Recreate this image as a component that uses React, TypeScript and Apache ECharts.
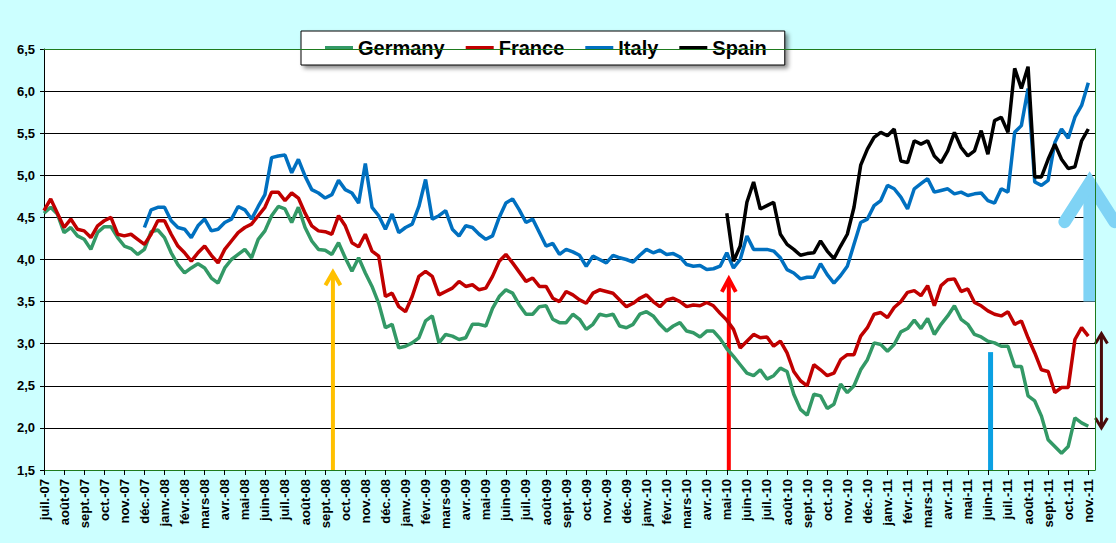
import * as echarts from 'echarts';
import { useEffect, useRef } from 'react';

// month labels on the x axis, three readings per month
const months = [
  'juil.-07', 'août-07', 'sept.-07', 'oct.-07', 'nov.-07', 'déc.-07',
  'janv.-08', 'févr.-08', 'mars-08', 'avr.-08', 'mai-08', 'juin-08',
  'juil.-08', 'août-08', 'sept.-08', 'oct.-08', 'nov.-08', 'déc.-08',
  'janv.-09', 'févr.-09', 'mars-09', 'avr.-09', 'mai-09', 'juin-09',
  'juil.-09', 'août-09', 'sept.-09', 'oct.-09', 'nov.-09', 'déc.-09',
  'janv.-10', 'févr.-10', 'mars-10', 'avr.-10', 'mai-10', 'juin-10',
  'juil.-10', 'août-10', 'sept.-10', 'oct.-10', 'nov.-10', 'déc.-10',
  'janv.-11', 'févr.-11', 'mars-11', 'avr.-11', 'mai-11', 'juin-11',
  'juil.-11', 'août-11', 'sept.-11', 'oct.-11', 'nov.-11',
];

const germany = [
  4.55, 4.62, 4.54, 4.32, 4.38, 4.28, 4.24, 4.12, 4.32, 4.39, 4.39, 4.26,
  4.16, 4.13, 4.06, 4.12, 4.33, 4.35, 4.26, 4.08, 3.94, 3.84, 3.90, 3.95,
  3.90, 3.78, 3.72, 3.90, 4.00, 4.06, 4.12, 4.02, 4.24, 4.34, 4.52, 4.63,
  4.60, 4.44, 4.62, 4.38, 4.22, 4.12, 4.11, 4.06, 4.20, 4.02, 3.86, 4.02,
  3.84, 3.68, 3.48, 3.19, 3.23, 2.95, 2.97, 3.01, 3.07, 3.27, 3.33, 3.01,
  3.11, 3.09, 3.05, 3.07, 3.23, 3.23, 3.21, 3.42, 3.56, 3.64, 3.60, 3.46,
  3.35, 3.35, 3.44, 3.45, 3.29, 3.25, 3.25, 3.35, 3.29, 3.17, 3.23, 3.35,
  3.33, 3.35, 3.21, 3.19, 3.23, 3.35, 3.38, 3.33, 3.23, 3.15, 3.21, 3.25,
  3.15, 3.13, 3.08, 3.15, 3.15, 3.06, 2.94, 2.85, 2.75, 2.65, 2.62, 2.69,
  2.58, 2.62, 2.71, 2.67, 2.40, 2.22, 2.15, 2.40, 2.38, 2.23, 2.28, 2.52,
  2.42, 2.50, 2.69, 2.81, 3.01, 2.99, 2.91, 2.99, 3.14, 3.18, 3.28, 3.18,
  3.30, 3.11, 3.23, 3.33, 3.45, 3.29, 3.23, 3.11, 3.08, 3.03, 3.01, 2.97,
  2.97, 2.73, 2.73, 2.38, 2.32, 2.14, 1.86, 1.78, 1.70, 1.78, 2.12, 2.06,
  2.02,
];

const france = [
  4.58, 4.72, 4.55, 4.38, 4.48, 4.36, 4.34, 4.26, 4.40, 4.46, 4.50, 4.30,
  4.28, 4.30, 4.24, 4.18, 4.30, 4.46, 4.46, 4.30, 4.16, 4.08, 3.98, 4.08,
  4.16, 4.05, 3.96, 4.12, 4.22, 4.32, 4.38, 4.42, 4.52, 4.62, 4.80, 4.80,
  4.70, 4.79, 4.73, 4.55, 4.40, 4.34, 4.33, 4.30, 4.52, 4.40, 4.20, 4.15,
  4.30, 4.10, 4.04, 3.56, 3.60, 3.44, 3.38, 3.56, 3.80, 3.86, 3.80, 3.58,
  3.62, 3.66, 3.74, 3.68, 3.70, 3.64, 3.66, 3.80, 3.98, 4.06, 3.96, 3.85,
  3.74, 3.78, 3.68, 3.68, 3.54, 3.50, 3.62, 3.58, 3.52, 3.48, 3.60, 3.64,
  3.62, 3.60, 3.52, 3.44, 3.48, 3.54, 3.58, 3.50, 3.44, 3.52, 3.54, 3.50,
  3.44, 3.46, 3.45, 3.49, 3.45, 3.36, 3.28, 3.17, 2.95, 3.03, 3.11, 3.07,
  3.08, 2.97, 3.03, 2.89, 2.67, 2.56, 2.50, 2.75, 2.69, 2.62, 2.65, 2.81,
  2.87, 2.87, 3.09, 3.19, 3.35, 3.37, 3.31, 3.43, 3.50, 3.61, 3.63, 3.57,
  3.69, 3.45, 3.69, 3.76, 3.77, 3.62, 3.65, 3.49, 3.45, 3.39, 3.35, 3.33,
  3.38, 3.23, 3.27, 3.07, 2.89, 2.69, 2.67, 2.42, 2.48, 2.48, 3.05, 3.19,
  3.09,
];

// Italy starts mid-November 2007
const italyStart = 15;
const italy = [
  4.38, 4.59, 4.62, 4.62, 4.46, 4.38, 4.36, 4.26, 4.40,
  4.48, 4.34, 4.36, 4.44, 4.48, 4.63, 4.59, 4.48, 4.63, 4.77, 5.21, 5.23,
  5.24, 5.03, 5.19, 4.99, 4.83, 4.79, 4.73, 4.77, 4.94, 4.83, 4.79, 4.67,
  5.14, 4.62, 4.52, 4.36, 4.54, 4.32, 4.38, 4.42, 4.63, 4.95, 4.48, 4.52,
  4.58, 4.36, 4.28, 4.40, 4.38, 4.30, 4.24, 4.28, 4.50, 4.67, 4.72, 4.59,
  4.44, 4.48, 4.32, 4.16, 4.19, 4.06, 4.12, 4.09, 4.05, 3.92, 4.04, 4.00,
  3.96, 4.05, 4.02, 4.00, 3.97, 4.05, 4.12, 4.08, 4.11, 4.06, 4.07, 4.03,
  3.94, 3.92, 3.93, 3.88, 3.89, 3.92, 4.08, 3.90, 4.00, 4.28, 4.12, 4.12,
  4.12, 4.10, 4.02, 3.88, 3.84, 3.77, 3.79, 3.79, 3.95, 3.82, 3.72, 3.81,
  3.92, 4.18, 4.44, 4.48, 4.64, 4.70, 4.88, 4.84, 4.74, 4.60, 4.84, 4.90,
  4.96, 4.80, 4.82, 4.84, 4.78, 4.80, 4.76, 4.78, 4.79, 4.70, 4.67, 4.84,
  4.80, 5.51, 5.59, 6.03, 4.92, 4.88, 4.94, 5.39, 5.55, 5.44, 5.69, 5.83,
  6.10,
];

// Spain starts end of April 2010
const spainStart = 102;
const spain = [
  4.55, 3.98, 4.16, 4.68, 4.92, 4.60,
  4.64, 4.68, 4.30, 4.18, 4.12, 4.05, 4.07, 4.08, 4.22, 4.10, 4.01, 4.16,
  4.30, 4.62, 5.12, 5.31, 5.45, 5.51, 5.47, 5.55, 5.17, 5.15, 5.41, 5.37,
  5.41, 5.23, 5.15, 5.29, 5.51, 5.33, 5.23, 5.29, 5.53, 5.25, 5.65, 5.69,
  5.51, 6.27, 6.03, 6.29, 4.98, 4.98, 5.19, 5.37, 5.19, 5.08, 5.10, 5.41,
  5.55,
];

// arrows drawn on top: position in category steps, from/to values
const arrows = [
  { pos: 43.16, from: 1.5, to: 3.85, color: '#FFC000', width: 4, head: [7.5, 13], both: false },
  { pos: 102.3, from: 1.5, to: 3.77, color: '#FF0000', width: 4, head: [7, 13], both: false },
  { pos: 141.4, from: 1.5, to: 2.9, color: '#0BA0E2', width: 5, head: null, both: false },
  { pos: 156.2, from: 3.5, to: 4.91, color: '#7FD3F5', width: 12.5, head: [25, 39], both: false },
  { pos: 157.96, from: 2.0, to: 3.12, color: '#4B0B0B', width: 3, head: [6, 10], both: true },
];

const categories: string[] = [];
months.forEach((m, k) => {
  const reps = k < months.length - 1 ? 3 : 2;
  for (let j = 0; j < reps; j++) categories.push(`${m}|${j}`);
});

const FONT = '"Liberation Sans", Arial, sans-serif';
const BORDER = '#1E7B1E';
const LINE_W = 3.5;

const App = () => {
  const chartRef = useRef(null);

  useEffect(() => {
    const chart = echarts.init(chartRef.current, null, { renderer: 'svg' });

    const option = {
      animation: false,
      backgroundColor: '#CCFFFF',
      textStyle: { fontFamily: FONT },
      legend: {
        data: ['Germany', 'France', 'Italy', 'Spain'],
        left: 301,
        top: 31,
        icon: 'rect',
        itemWidth: 28,
        itemHeight: 4,
        itemGap: 21,
        padding: [7, 18, 7, 24],
        backgroundColor: '#fff',
        borderColor: '#000',
        borderWidth: 1,
        shadowColor: 'rgba(0,0,0,0.45)',
        shadowBlur: 4,
        shadowOffsetX: 3,
        shadowOffsetY: 3,
        textStyle: { fontSize: 20, fontWeight: 'bold', color: '#000', fontFamily: FONT },
      },
      grid: { show: true, backgroundColor: '#fff', borderWidth: 0, left: 44, right: 21, top: 49, bottom: 73 },
      xAxis: [
        {
          type: 'category',
          data: categories,
          boundaryGap: false,
          axisLine: { lineStyle: { color: BORDER, width: 1 } },
          axisTick: { interval: 2, length: 5, lineStyle: { color: '#000' } },
          axisLabel: {
            interval: 2,
            rotate: 90,
            margin: 9,
            fontSize: 13,
            fontWeight: 'bold',
            color: '#000',
            fontFamily: FONT,
            formatter: (v: string) => v.split('|')[0],
          },
          splitLine: { show: false },
        },
        {
          type: 'category',
          data: categories,
          boundaryGap: false,
          position: 'top',
          axisLine: { lineStyle: { color: BORDER, width: 1 } },
          axisTick: { show: false },
          axisLabel: { show: false },
          z: 5,
        },
      ],
      yAxis: [
        {
          type: 'value',
          min: 1.5,
          max: 6.5,
          interval: 0.5,
          axisLine: { show: true, lineStyle: { color: '#000' } },
          axisTick: { show: true, length: 4, lineStyle: { color: '#000' } },
          axisLabel: {
            margin: 9,
            fontSize: 13,
            fontWeight: 'bold',
            color: '#000',
            fontFamily: FONT,
            formatter: (v: number) => v.toFixed(1).replace('.', ','),
          },
          splitLine: { showMinLine: false, showMaxLine: false, lineStyle: { color: '#000', width: 1 } },
        },
        {
          type: 'value',
          min: 1.5,
          max: 6.5,
          interval: 0.5,
          position: 'right',
          axisLine: { show: true, lineStyle: { color: BORDER, width: 1 } },
          axisTick: { show: false },
          axisLabel: { show: false },
          splitLine: { show: false },
          z: 5,
        },
      ],
      series: [
        {
          name: 'Germany',
          type: 'line',
          data: germany,
          symbol: 'none',
          lineStyle: { color: '#339966', width: LINE_W },
          itemStyle: { color: '#339966' },
        },
        {
          name: 'France',
          type: 'line',
          data: france,
          symbol: 'none',
          lineStyle: { color: '#C00000', width: LINE_W },
          itemStyle: { color: '#C00000' },
        },
        {
          name: 'Italy',
          type: 'line',
          data: italy.map((v, k) => [italyStart + k, v]),
          symbol: 'none',
          lineStyle: { color: '#0070C0', width: LINE_W },
          itemStyle: { color: '#0070C0' },
        },
        {
          name: 'Spain',
          type: 'line',
          data: spain.map((v, k) => [spainStart + k, v]),
          symbol: 'none',
          lineStyle: { color: '#000000', width: LINE_W },
          itemStyle: { color: '#000000' },
        },
      ],
    };

    chart.setOption(option);

    // place the annotation arrows through the chart's own scales
    const finder = { xAxisIndex: 0, yAxisIndex: 0 };
    const toPx = (pos: number, val: number) => {
      const a = chart.convertToPixel(finder, [0, val]) as number[];
      const b = chart.convertToPixel(finder, [1, val]) as number[];
      return [a[0] + pos * (b[0] - a[0]), a[1]];
    };

    const graphics = arrows.map((ar) => {
      const [x, y0] = toPx(ar.pos, ar.from);
      const [, y1] = toPx(ar.pos, ar.to);
      const style = {
        stroke: ar.color,
        lineWidth: ar.width,
        fill: null,
        lineCap: ar.head && ar.width > 6 ? 'round' : 'butt',
        lineJoin: 'miter',
      };
      const children: any[] = [
        { type: 'line', shape: { x1: x, y1: y0, x2: x, y2: y1 }, style: { ...style, lineCap: 'butt' } },
      ];
      if (ar.head) {
        const [hw, hh] = ar.head;
        children.push({
          type: 'polyline',
          shape: { points: [[x - hw, y1 + hh], [x, y1], [x + hw, y1 + hh]] },
          style,
        });
        if (ar.both) {
          children.push({
            type: 'polyline',
            shape: { points: [[x - hw, y0 - hh], [x, y0], [x + hw, y0 - hh]] },
            style,
          });
        }
      }
      return { type: 'group', z: 10, children };
    });

    chart.setOption({ graphic: graphics });

    return () => {
      chart.dispose();
    };
  }, []);

  return (
    <div
      ref={chartRef}
      style={{ position: 'fixed', left: 0, top: 0, width: '1116px', height: '543px' }}
    />
  );
};

export default App;
